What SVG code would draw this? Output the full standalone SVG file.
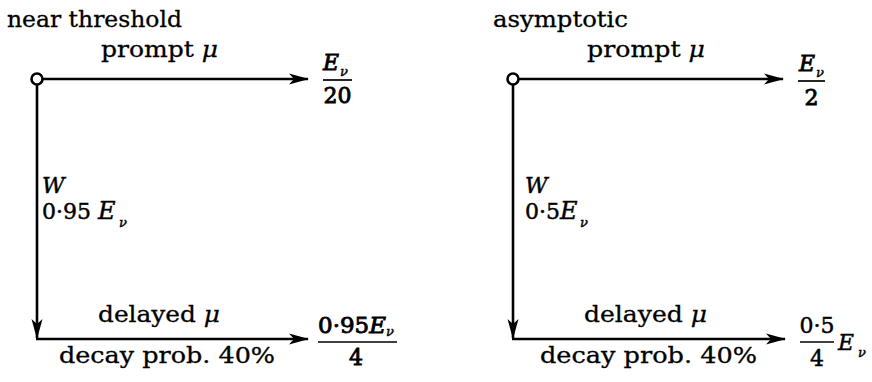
<svg xmlns="http://www.w3.org/2000/svg" width="872" height="382" viewBox="0 0 872 382">
<style>
.t{font-family:"DejaVu Serif","Liberation Serif",serif;font-size:22px;fill:#000;stroke:#000;stroke-width:0.3}
.m{font-family:"DejaVu Serif","Liberation Serif",serif;font-size:22px;fill:#000;stroke:#000;stroke-width:0.45}
.b{stroke-width:0.85}
.i{font-style:italic}
.s{font-family:"DejaVu Serif","Liberation Serif",serif;font-size:13px;font-style:italic;fill:#000;stroke:#000;stroke-width:0.45}
.ln{stroke:#000;stroke-width:2.6;fill:none}
.bar{stroke:#000;stroke-width:1.7}
.nd{fill:#fff;stroke:#000;stroke-width:2.6}
</style>
<defs>
<marker id="ah" markerUnits="userSpaceOnUse" markerWidth="22" markerHeight="14" viewBox="-20 -7 22 14" refX="0" refY="0" orient="auto">
<path d="M1,0 L-19,-5.5 L-14,0 L-19,5.5 Z" fill="#000"/>
</marker>
</defs>
<g id="connectors">
<line class="ln" x1="42" y1="79" x2="308" y2="79" marker-end="url(#ah)"/>
<line class="ln" x1="37" y1="85" x2="37" y2="338" marker-end="url(#ah)"/>
<line class="ln" x1="36" y1="339" x2="308" y2="339" marker-end="url(#ah)"/>
<line class="ln" x1="518" y1="79" x2="783" y2="79" marker-end="url(#ah)"/>
<line class="ln" x1="513" y1="85" x2="513" y2="338" marker-end="url(#ah)"/>
<line class="ln" x1="512" y1="339" x2="785" y2="339" marker-end="url(#ah)"/>
</g>
<g id="left-title"><text class="t" x="7" y="27" textLength="175" lengthAdjust="spacingAndGlyphs">near threshold</text></g>
<g id="left-source"><circle class="nd" cx="37" cy="79" r="5.5"/></g>
<g id="left-prompt-label"><text class="t" x="101" y="57" textLength="117" lengthAdjust="spacingAndGlyphs">prompt <tspan class="i">μ</tspan></text></g>
<g id="left-prompt-value">
<text class="m b i" x="323" y="70" font-size="23">E</text><text class="s" x="340" y="76">ν</text>
<line class="bar" x1="323" y1="80" x2="352" y2="80"/>
<text class="m b" x="337.5" y="103" text-anchor="middle" textLength="28" lengthAdjust="spacingAndGlyphs">20</text>
</g>
<g id="left-W-label">
<text class="m i" x="42" y="193" font-size="24">W</text>
<text class="m" x="42" y="219">0·95 <tspan class="i" font-size="24">E</tspan></text><text class="s" x="119" y="227">ν</text>
</g>
<g id="left-delayed-label"><text class="t" x="98" y="322" textLength="122" lengthAdjust="spacingAndGlyphs">delayed <tspan class="i">μ</tspan></text></g>
<g id="left-decay-label"><text class="t" x="59" y="363" textLength="216" lengthAdjust="spacingAndGlyphs">decay prob. 40%</text></g>
<g id="left-delayed-value">
<text class="m b" x="318" y="333" textLength="68" lengthAdjust="spacingAndGlyphs">0·95<tspan class="i">E</tspan></text><text class="s" x="386" y="336">ν</text>
<line class="bar" x1="318" y1="342" x2="397" y2="342"/>
<text class="m b" x="356" y="365" text-anchor="middle">4</text>
</g>
<g id="right-title"><text class="t" x="493" y="27" textLength="135" lengthAdjust="spacingAndGlyphs">asymptotic</text></g>
<g id="right-source"><circle class="nd" cx="513" cy="79" r="5.5"/></g>
<g id="right-prompt-label"><text class="t" x="587" y="57" textLength="118" lengthAdjust="spacingAndGlyphs">prompt <tspan class="i">μ</tspan></text></g>
<g id="right-prompt-value">
<text class="m b i" x="799" y="71" font-size="23">E</text><text class="s" x="816" y="77">ν</text>
<line class="bar" x1="798" y1="81" x2="825" y2="81"/>
<text class="m b" x="811.5" y="105" text-anchor="middle">2</text>
</g>
<g id="right-W-label">
<text class="m i" x="525" y="193" font-size="24">W</text>
<text class="m" x="525" y="219">0·5<tspan class="i" font-size="24">E</tspan></text><text class="s" x="580" y="227">ν</text>
</g>
<g id="right-delayed-label"><text class="t" x="584" y="322" textLength="123" lengthAdjust="spacingAndGlyphs">delayed <tspan class="i">μ</tspan></text></g>
<g id="right-decay-label"><text class="t" x="540" y="363" textLength="217" lengthAdjust="spacingAndGlyphs">decay prob. 40%</text></g>
<g id="right-delayed-value">
<text class="m" x="817" y="333" text-anchor="middle">0·5</text>
<line class="bar" x1="800" y1="342" x2="834" y2="342"/>
<text class="m" x="817" y="366" text-anchor="middle">4</text>
<text class="m i" x="838" y="350" font-size="24">E</text><text class="s" x="858" y="357">ν</text>
</g>
</svg>
